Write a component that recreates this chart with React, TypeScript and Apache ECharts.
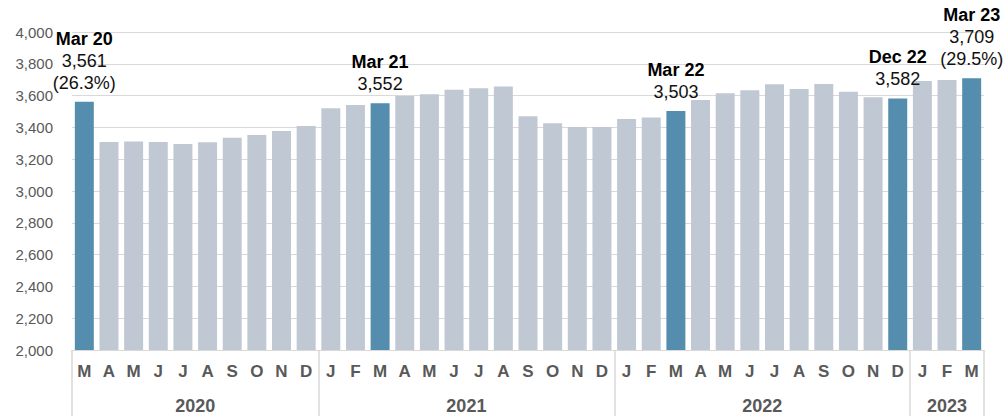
import React, { useEffect, useRef } from "react";
import * as echarts from "echarts";

const months = [
  "M", "A", "M", "J", "J", "A", "S", "O", "N", "D",
  "J", "F", "M", "A", "M", "J", "J", "A", "S", "O", "N", "D",
  "J", "F", "M", "A", "M", "J", "J", "A", "S", "O", "N", "D",
  "J", "F", "M",
];
const values = [
  3561, 3308, 3312, 3308, 3296, 3306, 3335, 3352, 3377, 3409,
  3520, 3541, 3552, 3597, 3608, 3637, 3646, 3658, 3470, 3426, 3402, 3402,
  3453, 3463, 3503, 3572, 3614, 3633, 3671, 3641, 3673, 3625, 3589, 3582,
  3692, 3698, 3709,
];
const years = ["2020", "2021", "2022", "2023"];
const yearMonthCounts = [10, 12, 12, 3];
const calloutIndex = [0, 12, 24, 33, 36];
const calloutTitle = ["Mar 20", "Mar 21", "Mar 22", "Dec 22", "Mar 23"];
const calloutShare = ["(26.3%)", "", "", "", "(29.5%)"];
const yTicks = { min: 2000, max: 4000, interval: 200 };

const BLUE = "#558daf";
const GREY = "#c0c8d4";
const LINE = "#d9d9d9";
const AXIS_TEXT = "#595959";
const FONT = "'Liberation Sans', Arial, sans-serif";

export default function App() {
  const ref = useRef<HTMLDivElement>(null);
  useEffect(() => {
    if (!ref.current) return;
    const chart = echarts.init(ref.current, null, { renderer: "svg" });

    // year boundaries & centers in index units
    const boundaries: number[] = [-0.5];
    const centers: number[] = [];
    let start = 0;
    yearMonthCounts.forEach((c) => {
      centers.push(start + (c - 1) / 2);
      start += c;
      boundaries.push(start - 0.5);
    });

    const data = values.map((v, i) => {
      const k = calloutIndex.indexOf(i);
      if (k < 0) return { value: v, itemStyle: { color: GREY } };
      const lines = [`{t|${calloutTitle[k]}}`, `{v|${v.toLocaleString("en-US")}}`];
      if (calloutShare[k]) lines.push(`{v|${calloutShare[k]}}`);
      return {
        value: v,
        itemStyle: { color: BLUE },
        label: {
          show: true,
          position: "top",
          distance: 8,
          formatter: lines.join("\n"),
          rich: {
            t: { fontFamily: FONT, fontSize: 18, fontWeight: "bold", color: "#000", lineHeight: 22 },
            v: { fontFamily: FONT, fontSize: 18, color: "#111", lineHeight: 22 },
          },
        },
      };
    });

    chart.setOption({
      animation: false,
      grid: { left: 72, right: 20, top: 32, bottom: 66, containLabel: false },
      xAxis: [
        {
          type: "category",
          data: months,
          position: "bottom",
          axisLine: { show: true, lineStyle: { color: LINE } },
          axisTick: { show: false },
          axisLabel: {
            interval: 0,
            margin: 13,
            color: AXIS_TEXT,
            fontFamily: FONT,
            fontSize: 17,
            fontWeight: "bold",
          },
        },
        {
          type: "value",
          position: "bottom",
          min: -0.5,
          max: values.length - 0.5,
          axisLine: { show: false, onZero: false },
          splitLine: { show: false },
          axisTick: {
            show: true,
            customValues: boundaries,
            length: 66,
            lineStyle: { color: LINE, width: 1.5 },
          },
          axisLabel: {
            customValues: centers,
            margin: 47,
            color: AXIS_TEXT,
            fontFamily: FONT,
            fontSize: 18,
            fontWeight: "bold",
            formatter: (val: number) => {
              const idx = centers.findIndex((c) => Math.abs(c - val) < 1e-6);
              return idx >= 0 ? years[idx] : "";
            },
          },
        },
      ],
      yAxis: {
        type: "value",
        min: yTicks.min,
        max: yTicks.max,
        interval: yTicks.interval,
        axisLine: { show: false },
        axisTick: { show: false },
        splitLine: { lineStyle: { color: LINE, width: 1 } },
        axisLabel: {
          margin: 19,
          color: AXIS_TEXT,
          fontFamily: FONT,
          fontSize: 15,
          formatter: (v: number) => v.toLocaleString("en-US"),
        },
      },
      series: [
        {
          type: "bar",
          xAxisIndex: 0,
          yAxisIndex: 0,
          barCategoryGap: "23%",
          data,
        },
      ],
    });
    return () => chart.dispose();
  }, []);
  return (
    <div
      ref={ref}
      style={{ position: "fixed", left: 0, top: 0, width: 1004, height: 416, background: "#fff" }}
    />
  );
}
